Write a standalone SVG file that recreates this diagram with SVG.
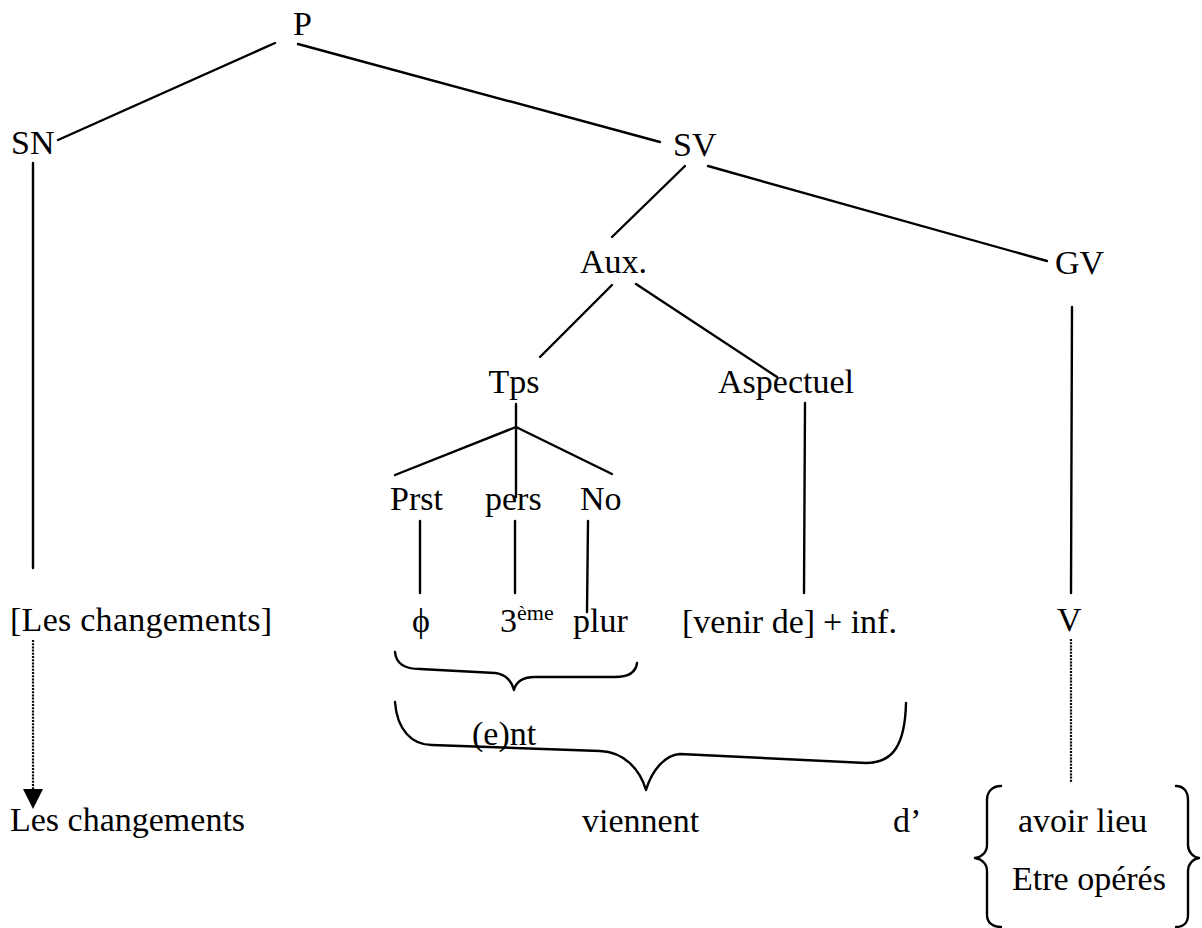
<svg xmlns="http://www.w3.org/2000/svg" width="1202" height="928" viewBox="0 0 1202 928">
<style>
text{font-family:"Liberation Serif","Times New Roman",serif;font-size:34px;fill:#000}
.sup{font-size:22px}
.ln{stroke:#000;stroke-width:2.4;fill:none;stroke-linecap:round}
.dot{stroke:#000;stroke-width:2.2;fill:none;stroke-dasharray:2 1.2}
.br{stroke:#000;stroke-width:2.4;fill:none;stroke-linecap:round;stroke-linejoin:round}
</style>
<rect width="1202" height="928" fill="#fff"/>
<g id="connectors">
<line class="ln" x1="275" y1="43" x2="58" y2="140"/>
<line class="ln" x1="298" y1="44" x2="660" y2="142"/>
<line class="ln" x1="33" y1="163" x2="33" y2="568"/>
<line class="ln" x1="685" y1="166" x2="612" y2="237"/>
<line class="ln" x1="708" y1="166" x2="1047" y2="261"/>
<line class="ln" x1="1072" y1="307" x2="1071" y2="593"/>
<line class="dot" x1="1071" y1="639" x2="1071" y2="783"/>
<line class="ln" x1="612" y1="285" x2="540" y2="357"/>
<line class="ln" x1="636" y1="284" x2="777" y2="377"/>
<line class="ln" x1="805" y1="403" x2="804" y2="593"/>
<line class="ln" x1="516" y1="404" x2="516" y2="427"/>
<line class="ln" x1="516" y1="427" x2="395" y2="475"/>
<line class="ln" x1="516" y1="427" x2="516" y2="497"/>
<line class="ln" x1="516" y1="427" x2="612" y2="474"/>
<line class="ln" x1="420" y1="521" x2="420" y2="593"/>
<line class="ln" x1="515" y1="521" x2="515" y2="593"/>
<line class="ln" x1="588" y1="521" x2="587" y2="612"/>
<line class="dot" x1="33" y1="640" x2="33" y2="790"/>
<path d="M23,789 L43,789 L33,809 Z" fill="#000"/>
<path class="br" d="M395,652 C396,664 405,669 420,669 L495,673 C506,674 512,682 514,690 C516,682 522,677 535,677 L615,677 C630,677 636,671 637,663"/>
<path class="br" d="M395,702 C397,730 412,745 432,745 L600,751 C625,752 640,770 646,790 C652,770 665,755 680,754 L866,763 C893,763 905,745 906,703"/>
<path class="br" d="M1001,786 C992,786 987,792 987,800 L987,845 C987,852 982,857 975,858 C982,859 987,864 987,871 L987,915 C987,922 992,927 1001,927"/>
<path class="br" d="M1176,786 C1184,786 1188,792 1188,800 L1188,845 C1188,852 1193,857 1199,858 C1193,859 1188,864 1188,871 L1188,915 C1188,922 1184,927 1176,927"/>
</g>
<g id="n-P"><text x="293" y="35">P</text></g>
<g id="n-SN"><text x="11" y="154">SN</text></g>
<g id="n-SV"><text x="673" y="156">SV</text></g>
<g id="n-Aux"><text x="580" y="273">Aux.</text></g>
<g id="n-GV"><text x="1055" y="274">GV</text></g>
<g id="n-Tps"><text x="514" y="393" text-anchor="middle">Tps</text></g>
<g id="n-Aspectuel"><text x="718" y="393">Aspectuel</text></g>
<g id="n-Prst"><text x="390" y="510">Prst</text></g>
<g id="n-pers"><text x="485" y="510">pers</text></g>
<g id="n-No"><text x="580" y="510">No</text></g>
<g id="n-Les1"><text x="10" y="631" textLength="262" lengthAdjust="spacing">[Les changements]</text></g>
<g id="n-phi"><text x="412" y="632">ϕ</text></g>
<g id="n-3eme"><text x="500" y="632">3<tspan class="sup" dy="-12">ème</tspan></text></g>
<g id="n-plur"><text x="573" y="632">plur</text></g>
<g id="n-venir"><text x="682" y="633">[venir de]</text><text x="823" y="633">+ inf.</text></g>
<g id="n-V"><text x="1057" y="631">V</text></g>
<g id="n-ent"><text x="472" y="745">(e)nt</text></g>
<g id="n-Les2"><text x="10" y="831">Les changements</text></g>
<g id="n-viennent"><text x="582" y="832">viennent</text></g>
<g id="n-d"><text x="893" y="832">d’</text></g>
<g id="n-avoir"><text x="1018" y="832">avoir lieu</text></g>
<g id="n-etre"><text x="1012" y="890">Etre opérés</text></g>
</svg>
